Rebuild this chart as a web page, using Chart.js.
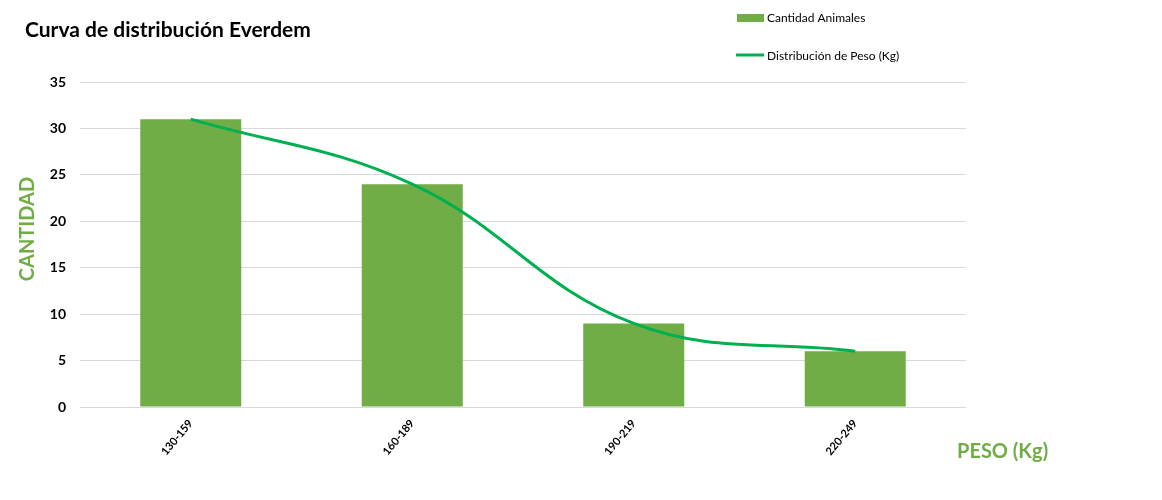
<!DOCTYPE html>
<html>
<head>
<meta charset="utf-8">
<script src="https://cdn.jsdelivr.net/npm/chart.js@4/dist/chart.umd.min.js"></script>
<style>
  html, body { margin: 0; padding: 0; background: #fff; }
  #wrap { width: 1162px; height: 500px; }
</style>
</head>
<body>
<div id="wrap"><canvas id="chart"></canvas></div>
<script>
var categories = ['130-159', '160-189', '190-219', '220-249'];
var cantidadAnimales = [31, 24, 9, 6];
var distribucionPeso = [31, 24, 9, 6];

var chartTitle = 'Curva de distribución Everdem';
var yTitle = 'CANTIDAD';
var xTitle = 'PESO (Kg)';
var seriesNames = ['Cantidad Animales', 'Distribución de Peso (Kg)'];

var barColor = '#70ad47';
var lineColor = '#00b050';
var fontName = 'Lato, "Liberation Sans", sans-serif';

// titles, legend and axis names drawn by hand, like the office chart
var extras = {
  id: 'extras',
  afterDraw(chart) {
    const ctx = chart.ctx;
    ctx.save();

    ctx.fillStyle = '#000';
    ctx.font = 'bold 21px ' + fontName;
    ctx.textBaseline = 'middle';
    ctx.textAlign = 'left';
    ctx.fillText(chartTitle, 25, 30);

    // legend
    ctx.fillStyle = barColor;
    ctx.fillRect(737, 14, 27, 8);
    ctx.strokeStyle = lineColor;
    ctx.lineWidth = 3;
    ctx.beginPath();
    ctx.moveTo(736, 55);
    ctx.lineTo(764, 55);
    ctx.stroke();
    ctx.fillStyle = '#000';
    ctx.font = '12px ' + fontName;
    ctx.fillText(seriesNames[0], 767, 18);
    ctx.fillText(seriesNames[1], 767, 56);

    // y axis name
    ctx.fillStyle = barColor;
    ctx.font = 'bold 20px ' + fontName;
    ctx.translate(28, 229);
    ctx.rotate(-Math.PI / 2);
    ctx.textAlign = 'center';
    ctx.fillText(yTitle, 0, 0);
    ctx.restore();

    ctx.save();
    ctx.fillStyle = barColor;
    ctx.font = 'bold 20px ' + fontName;
    ctx.textBaseline = 'middle';
    ctx.textAlign = 'left';
    ctx.fillText(xTitle, 957, 452);
    ctx.restore();
  }
};

new Chart(document.getElementById('chart'), {
  data: {
    labels: categories,
    datasets: [
      {
        type: 'line',
        label: seriesNames[1],
        data: distribucionPeso,
        borderColor: lineColor,
        borderWidth: 3,
        pointRadius: 0,
        tension: 0.4,
        fill: false,
        order: 0
      },
      {
        type: 'bar',
        label: seriesNames[0],
        data: cantidadAnimales,
        backgroundColor: barColor,
        categoryPercentage: 1,
        barPercentage: 0.456,
        order: 1
      }
    ]
  },
  plugins: [extras],
  options: {
    responsive: true,
    maintainAspectRatio: false,
    animation: false,
    layout: { padding: { top: 82, right: 196, left: 0, bottom: 0 } },
    plugins: {
      legend: { display: false },
      title: { display: false },
      tooltip: { enabled: false }
    },
    scales: {
      x: {
        grid: { display: false, drawTicks: false },
        border: { display: false },
        ticks: {
          color: '#000',
          font: { family: fontName, size: 11, weight: 'bold' },
          minRotation: 50,
          maxRotation: 50,
          padding: 10
        },
        afterFit(s) { s.height = 93; }
      },
      y: {
        min: 0,
        max: 35,
        grid: { color: '#d9d9d9', drawTicks: false },
        border: { display: false },
        ticks: {
          stepSize: 5,
          color: '#000',
          font: { family: fontName, size: 14, weight: 'bold' },
          padding: 14
        },
        afterFit(s) { s.width = 80; }
      }
    }
  }
});
</script>
</body>
</html>
